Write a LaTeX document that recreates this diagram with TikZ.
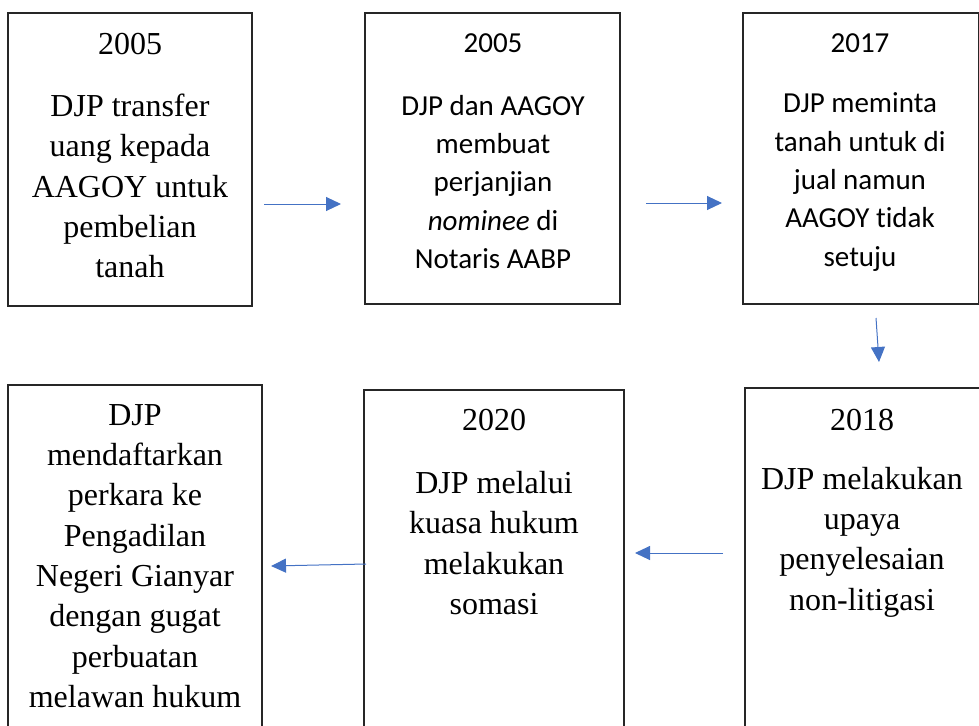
\documentclass[tikz,border=0pt]{standalone}
\usepackage{fontspec}
\setmainfont{Liberation Serif}
\newfontfamily\carlito[Ligatures=CommonOff]{Carlito}
\usetikzlibrary{arrows.meta}
\definecolor{arrowblue}{HTML}{4472C4}
\tikzset{
  box/.style={draw=black!85, line width=1.1pt},
  serif/.style={align=center, inner sep=0pt, font=\fontsize{32}{40.3}\selectfont},
  sans/.style={align=center, inner sep=0pt, font=\carlito\fontsize{29}{38.4}\selectfont},
  flow/.style={draw=arrowblue, line width=1pt, -{Triangle[length=15pt,width=14pt]}}
}
\begin{document}
\begin{tikzpicture}[x=1pt,y=-1pt]
\useasboundingbox (0,0) rectangle (979,725);
\clip (0,0) rectangle (979,725);
% boxes
\draw[box] (8,13) rectangle (252,306) node[midway] (b1) {};
\draw[box] (365,13) rectangle (620,304) node[midway] (b2) {};
\draw[box] (743,13) rectangle (978.4,304) node[midway] (b3) {};
\draw[box] (8,385) rectangle (262,740) node[midway] (b4) {};
\draw[box] (364,390) rectangle (624,740) node[midway] (b5) {};
\draw[box] (745,388) rectangle (990,740) node[midway] (b6) {};
% texts
\node[serif] (y1) at (130,44) {2005};
\node[serif] (t1) at (130,186) {DJP transfer\\uang kepada\\AAGOY untuk\\pembelian\\tanah};
\node[sans] (y2) at (493,43) {2005};
\node[sans] (t2) at (493,182) {DJP dan AAGOY\\membuat\\perjanjian\\\textit{nominee} di\\Notaris AABP};
\node[sans] (y3) at (860,43) {2017};
\node[sans] (t3) at (860,182) {DJP meminta\\tanah untuk di\\jual namun\\AAGOY tidak\\setuju};
\node[serif] (t4) at (135,556) {DJP\\mendaftarkan\\perkara ke\\Pengadilan\\Negeri Gianyar\\dengan gugat\\perbuatan\\melawan hukum};
\node[serif] (y5) at (494,420) {2020};
\node[serif] (t5) at (494,543) {DJP melalui\\kuasa hukum\\melakukan\\somasi};
\node[serif] (y6) at (862,420) {2018};
\node[serif] (t6) at (862,542) {DJP melakukan\\upaya\\penyelesaian\\non-litigasi};
% arrow endpoints
\coordinate (a1s) at (264,204); \coordinate (a1e) at (341,204);
\coordinate (a2s) at (646,203); \coordinate (a2e) at (722,203);
\coordinate (a3s) at (876,318); \coordinate (a3e) at (879,362);
\coordinate (a4s) at (723,553); \coordinate (a4e) at (635,553);
\coordinate (a5s) at (366,564); \coordinate (a5e) at (271,566);
\draw[flow] (a1s) -- (a1e);
\draw[flow] (a2s) -- (a2e);
\draw[flow] (a3s) -- (a3e);
\draw[flow] (a4s) -- (a4e);
\draw[flow] (a5s) -- (a5e);
\end{tikzpicture}
\end{document}
